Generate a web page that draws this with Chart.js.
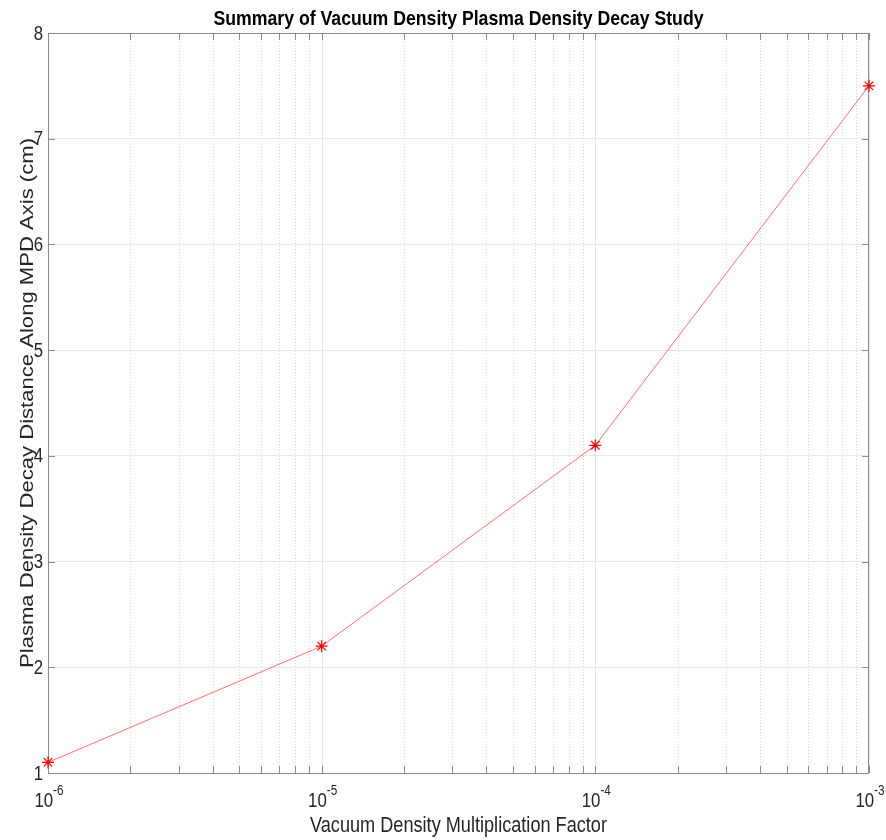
<!DOCTYPE html>
<html>
<head>
<meta charset="utf-8">
<script src="https://cdn.jsdelivr.net/npm/chart.js@4.4.1/dist/chart.umd.min.js"></script>
<style>
  html, body { margin: 0; padding: 0; background: #fff; }
  canvas { display: block; }
</style>
</head>
<body>
<canvas id="decayChart" width="886" height="840"></canvas>
<script>
// valores
const vacuumFactor = [1e-6, 1e-5, 1e-4, 1e-3];
const decayDistance = [1.1, 2.2, 4.1, 7.5];
const xDecades = [-6, -5, -4, -3];
const yTickValues = [1, 2, 3, 4, 5, 6, 7, 8];

const titleText = 'Summary of Vacuum Density Plasma Density Decay Study';
const xTitleText = 'Vacuum Density Multiplication Factor';
const yTitleText = 'Plasma Density Decay Distance Along MPD Axis (cm)';

const FONT = '"Liberation Sans", Arial, Helvetica, sans-serif';
const SQUEEZE = 0.84;

// texto com compressão horizontal (o original parece mais estreito)
function drawText(ctx, text, x, y, font, align, sx) {
  ctx.save();
  ctx.font = font;
  ctx.textAlign = align;
  ctx.translate(x, y);
  ctx.scale(sx, 1);
  ctx.fillText(text, 0, 0);
  ctx.restore();
}

const axesPlugin = {
  id: 'matlabAxes',
  beforeDatasetsDraw(chart) {
    const { ctx, chartArea: a, scales: { x, y } } = chart;
    ctx.save();
    ctx.lineWidth = 1;

    // grade menor pontilhada
    ctx.strokeStyle = '#dadada';
    ctx.setLineDash([1, 2]);
    xDecades.slice(0, -1).forEach(d => {
      for (let m = 2; m <= 9; m++) {
        const px = Math.round(x.getPixelForValue(m * Math.pow(10, d))) + 0.5;
        ctx.beginPath();
        ctx.moveTo(px, a.top);
        ctx.lineTo(px, a.bottom);
        ctx.stroke();
      }
    });

    // grade maior
    ctx.setLineDash([]);
    ctx.strokeStyle = '#e6e6e6';
    xDecades.forEach(d => {
      const px = Math.round(x.getPixelForValue(Math.pow(10, d))) + 0.5;
      ctx.beginPath();
      ctx.moveTo(px, a.top);
      ctx.lineTo(px, a.bottom);
      ctx.stroke();
    });

    // caixa
    ctx.strokeStyle = '#8c8c8c';
    ctx.strokeRect(a.left + 0.5, a.top + 0.5, a.right - a.left - 1, a.bottom - a.top);

    // marcas para dentro
    const tl = 7;
    ctx.beginPath();
    xDecades.forEach((d, i) => {
      const last = i === xDecades.length - 1;
      for (let m = 1; m <= (last ? 1 : 9); m++) {
        const px = Math.round(x.getPixelForValue(m * Math.pow(10, d))) + 0.5;
        ctx.moveTo(px, a.bottom);
        ctx.lineTo(px, a.bottom - tl);
        ctx.moveTo(px, a.top);
        ctx.lineTo(px, a.top + tl);
      }
    });
    yTickValues.forEach(v => {
      const py = Math.round(y.getPixelForValue(v)) + 0.5;
      ctx.moveTo(a.left, py);
      ctx.lineTo(a.left + tl, py);
      ctx.moveTo(a.right, py);
      ctx.lineTo(a.right - tl, py);
    });
    ctx.stroke();
    ctx.restore();
  },
  afterDraw(chart) {
    const { ctx, chartArea: a, scales: { x, y } } = chart;
    ctx.save();
    ctx.textBaseline = 'alphabetic';
    const cx = (a.left + a.right) / 2;
    const cy = (a.top + a.bottom) / 2;

    // título
    ctx.fillStyle = '#000';
    ctx.font = 'bold 21px ' + FONT;
    let w = ctx.measureText(titleText).width;
    drawText(ctx, titleText, cx, 25, ctx.font, 'center', 490 / w);

    // rótulo x
    ctx.fillStyle = '#262626';
    ctx.font = '22px ' + FONT;
    w = ctx.measureText(xTitleText).width;
    drawText(ctx, xTitleText, cx, 832, ctx.font, 'center', 297 / w);

    // rótulo y (girado)
    ctx.font = '22px ' + FONT;
    w = ctx.measureText(yTitleText).width;
    ctx.save();
    ctx.translate(33, cy);
    ctx.rotate(-Math.PI / 2);
    ctx.scale(530 / w, 0.85);
    ctx.textAlign = 'center';
    ctx.fillText(yTitleText, 0, 0);
    ctx.restore();

    // números do eixo y
    ctx.textBaseline = 'middle';
    yTickValues.forEach(v => {
      drawText(ctx, String(v), 43, y.getPixelForValue(v) + 1, '20px ' + FONT, 'right', SQUEEZE);
    });

    // potências de dez no eixo x
    ctx.textBaseline = 'alphabetic';
    xDecades.forEach(d => {
      const px = x.getPixelForValue(Math.pow(10, d));
      const base = '10', sup = String(d);
      ctx.font = '20px ' + FONT;
      const wb = ctx.measureText(base).width * SQUEEZE;
      ctx.font = '14px ' + FONT;
      const ws = ctx.measureText(sup).width * SQUEEZE;
      const left = px - (wb + ws) / 2 + 1;
      drawText(ctx, base, left, 807, '20px ' + FONT, 'left', SQUEEZE);
      drawText(ctx, sup, left + wb, 795, '14px ' + FONT, 'left', SQUEEZE);
    });
    ctx.restore();
  }
};

const ctx = document.getElementById('decayChart').getContext('2d');
new Chart(ctx, {
  type: 'line',
  data: {
    datasets: [{
      data: vacuumFactor.map((v, i) => ({ x: v, y: decayDistance[i] })),
      borderColor: 'rgba(255, 40, 40, 0.85)',
      borderWidth: 0.8,
      pointStyle: 'star',
      pointRadius: 6,
      pointBorderWidth: 1.2,
      pointBorderColor: '#ff0000',
      pointBackgroundColor: '#ff0000',
      tension: 0,
      fill: false,
      clip: false
    }]
  },
  options: {
    responsive: false,
    animation: false,
    devicePixelRatio: 1,
    layout: { padding: { left: 0, right: 17, top: 33, bottom: 0 } },
    plugins: {
      legend: { display: false },
      tooltip: { enabled: false },
      title: { display: false }
    },
    scales: {
      x: {
        type: 'logarithmic',
        min: 1e-6,
        max: 1e-3,
        grid: { display: false },
        border: { display: false },
        ticks: { display: false },
        afterFit(scale) { scale.height = 67; }
      },
      y: {
        min: 1,
        max: 8,
        ticks: { display: false, stepSize: 1 },
        grid: { color: '#e8e8e8', drawTicks: false },
        border: { display: false },
        afterFit(scale) { scale.width = 48; }
      }
    }
  },
  plugins: [axesPlugin]
});
</script>
</body>
</html>
